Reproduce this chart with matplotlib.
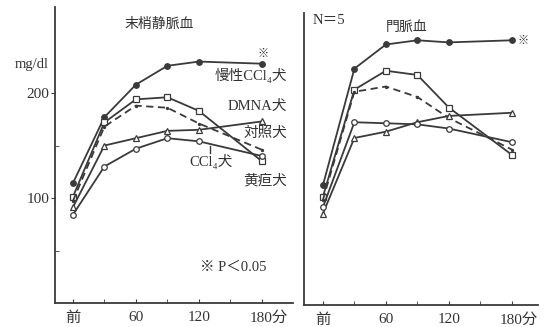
import matplotlib
matplotlib.use("Agg")
import matplotlib.pyplot as plt
from matplotlib.transforms import ScaledTranslation

plt.rcParams['font.family'] = ['Liberation Serif', 'Noto Sans CJK JP', 'DejaVu Sans']

times = [0, 30, 60, 90, 120, 180]
tick_pos = [0, 60, 120, 180]
tick_labels = ["前", "60", "120", "180分"]

# 末梢静脈血 (peripheral venous blood), mg/dl
peri_chronic_ccl4 = [114, 177, 208, 226, 230, 228]
peri_jaundice = [101, 172, 194, 196, 183, 135]
peri_control = [97, 168, 188, 186, 171, 146]
peri_dmna = [91, 150, 157, 164, 165, 173]
peri_ccl4 = [84, 130, 147, 157, 154, 140]

# 門脈血 (portal blood), mg/dl
port_chronic_ccl4 = [114, 225, 248, 252, 250, 252]
port_jaundice = [103, 205, 223, 219, 188, 143]
port_control = [100, 203, 208, 198, 178, 148]
port_dmna = [87, 159, 165, 174, 180, 183]
port_ccl4 = [93, 174, 173, 172, 168, 155]

C = "#3a3a3a"
fig = plt.figure(figsize=(5.47, 3.27), dpi=100)
axL = fig.add_axes([0.1005, 0.0734, 0.4351, 0.9052])
axR = fig.add_axes([0.5558, 0.0673, 0.4278, 0.8930])


def draw(ax, chronic, jaund, ctrl, dmna, ccl4):
    kw = dict(color=C, lw=1.3, ms=4, mew=0.9)
    ax.plot(times, chronic, marker='o', mfc=C, **kw)
    ax.plot(times, jaund, marker='s', mfc='white', **kw)
    ax.plot(times, ctrl, marker='.', ls=(0, (4, 2.5)), mfc=C, **{**kw, 'ms': 3})
    ax.plot(times, dmna, marker='^', mfc='white', **kw)
    ax.plot(times, ccl4, marker='o', mfc='white', **kw)
    for s in ['top', 'right']:
        ax.spines[s].set_visible(False)
    for s in ['left', 'bottom']:
        ax.spines[s].set_color(C)
        ax.spines[s].set_linewidth(1.3)
    ax.set_xticks(tick_pos)
    ax.set_xticks([30, 90, 150], minor=True)
    ax.tick_params(axis='x', which='both', direction='in', length=3, color=C,
                   labelsize=11, pad=6, labelcolor='#333333')
    ax.set_xticklabels(tick_labels)
    lab = ax.get_xticklabels()[-1]
    lab.set_transform(lab.get_transform() + ScaledTranslation(7 / 100, 0, fig.dpi_scale_trans))


draw(axL, peri_chronic_ccl4, peri_jaundice, peri_control, peri_dmna, peri_ccl4)
draw(axR, port_chronic_ccl4, port_jaundice, port_control, port_dmna, port_ccl4)

axL.set_xlim(-17, 209.5)
axL.set_ylim(0, 282)
axR.set_xlim(-18, 205)
axR.set_ylim(0, 278)

axL.set_yticks([100, 200])
axL.set_yticks([50, 150], minor=True)
axL.tick_params(axis='y', which='major', direction='out', length=3, color=C,
                labelsize=11, pad=1, labelcolor='#333333')
axL.tick_params(axis='y', which='minor', direction='in', length=3, color=C)
axR.set_yticks([])

tc = '#333333'
axL.text(82, 265, "末梢静脈血", ha='center', va='center', fontsize=10, color=tc)
axL.text(-39, 227, "mg/dl", ha='center', va='center', fontsize=10.5, color=tc, clip_on=False)
axL.text(204, 217, "慢性CCl₄犬", ha='right', va='center', fontsize=10.5, color=tc)
axL.text(204, 187, "DMNA犬", ha='right', va='center', fontsize=10.5, color=tc)
axL.text(204, 162, "対照犬", ha='right', va='center', fontsize=10.5, color=tc)
axL.text(132, 135, "CCl₄犬", ha='center', va='center', fontsize=10.5, color=tc)
axL.text(204, 117, "黄疸犬", ha='right', va='center', fontsize=10.5, color=tc)
axL.plot([131, 131], [143, 150], color=C, lw=1)
axL.text(121, 34, "※ P＜0.05", ha='left', va='center', fontsize=10.5, color=tc)
axL.text(181, 237, "※", ha='center', va='center', fontsize=8, color=tc, fontweight='bold')

axR.text(-9.5, 271, "N＝5", ha='left', va='center', fontsize=10.5, color=tc, clip_on=False)
axR.text(80, 264, "門脈血", ha='center', va='center', fontsize=10, color=tc)
axR.text(191, 251, "※", ha='center', va='center', fontsize=8, color=tc, clip_on=False,
         fontweight='bold')

fig.savefig("out.png", dpi=100)
